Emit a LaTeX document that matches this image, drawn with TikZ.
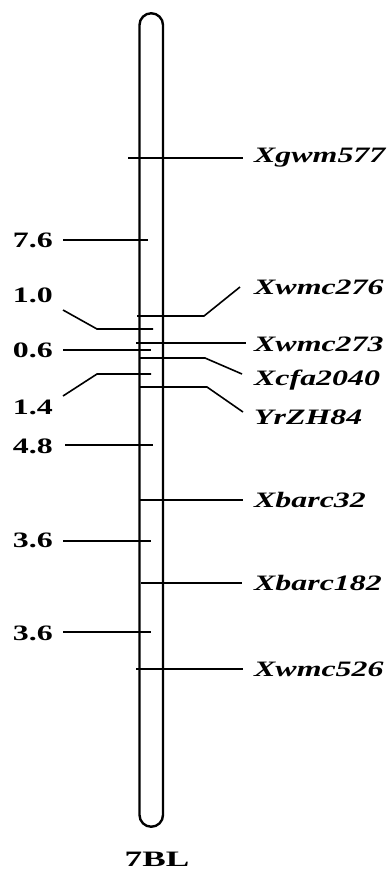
\documentclass[tikz,border=0pt]{standalone}
\usepackage{fontspec}
\usepackage{graphicx}
\setmainfont{Liberation Serif}
\tikzset{
  chrom/.style={line width=2.4pt},
  tick/.style={line width=1.6pt},
  mk/.style={anchor=west, inner sep=0pt, font=\fontsize{22}{26}\selectfont\itshape\bfseries},
  num/.style={anchor=east, inner sep=0pt, font=\fontsize{22}{26}\selectfont\bfseries},
}
\newcommand{\wide}[1]{\scalebox{1.45}[1]{#1}}
\begin{document}
\begin{tikzpicture}[x=1pt,y=-1pt]
\useasboundingbox (0,0) rectangle (389,871);
% chromosome
\draw[chrom] (139.5,815) -- (139.5,25) arc[start angle=180,end angle=360,radius=11.75] -- (163,815) arc[start angle=0,end angle=180,radius=11.75];
% right markers
\node[mk] (m1) at (254,158) {\wide{Xgwm577}};
\node[mk] (m2) at (254,287) {\wide{Xwmc276}};
\node[mk] (m3) at (254,344) {\wide{Xwmc273}};
\node[mk] (m4) at (254,380) {\wide{Xcfa2040}};
\node[mk] (m5) at (254,417) {\wide{YrZH84}};
\node[mk] (m6) at (254,500) {\wide{Xbarc32}};
\node[mk] (m7) at (254,583) {\wide{Xbarc182}};
\node[mk] (m8) at (254,669) {\wide{Xwmc526}};
\coordinate (e1) at (243,158);
\coordinate (e2) at (240,287);
\coordinate (e3) at (246,343);
\coordinate (e4) at (242,374);
\coordinate (e5) at (243,412);
\coordinate (e6) at (243,500);
\coordinate (e7) at (242,583);
\coordinate (e8) at (243,669);
\draw[tick] (128,158) -- (e1);
\draw[tick] (137,316) -- (204,316) -- (e2);
\draw[tick] (136,343) -- (e3);
\draw[tick] (139,358) -- (205,358) -- (e4);
\draw[tick] (139,387) -- (207,387) -- (e5);
\draw[tick] (140,500) -- (e6);
\draw[tick] (141,583) -- (e7);
\draw[tick] (136,669) -- (e8);
% left intervals
\node[num] (n1) at (53,240) {\wide{7.6}};
\node[num] (n2) at (53,295) {\wide{1.0}};
\node[num] (n3) at (53,350) {\wide{0.6}};
\node[num] (n4) at (53,407) {\wide{1.4}};
\node[num] (n5) at (53,446) {\wide{4.8}};
\node[num] (n6) at (53,540) {\wide{3.6}};
\node[num] (n7) at (53,633) {\wide{3.6}};
\coordinate (l1) at (63,240);
\coordinate (l2) at (63,310);
\coordinate (l3) at (63,350);
\coordinate (l4) at (63,396);
\coordinate (l5) at (65,445);
\coordinate (l6) at (63,541);
\coordinate (l7) at (63,632);
\draw[tick] (l1) -- (148,240);
\draw[tick] (l2) -- (97,329) -- (153,329);
\draw[tick] (l3) -- (151,350);
\draw[tick] (l4) -- (97,374) -- (151,374);
\draw[tick] (l5) -- (153,445);
\draw[tick] (l6) -- (151,541);
\draw[tick] (l7) -- (151,632);
% title
\node[font=\fontsize{22}{26}\selectfont\bfseries, inner sep=0pt] (t) at (157,859) {\scalebox{1.6}[1]{7BL}};
\end{tikzpicture}
\end{document}
